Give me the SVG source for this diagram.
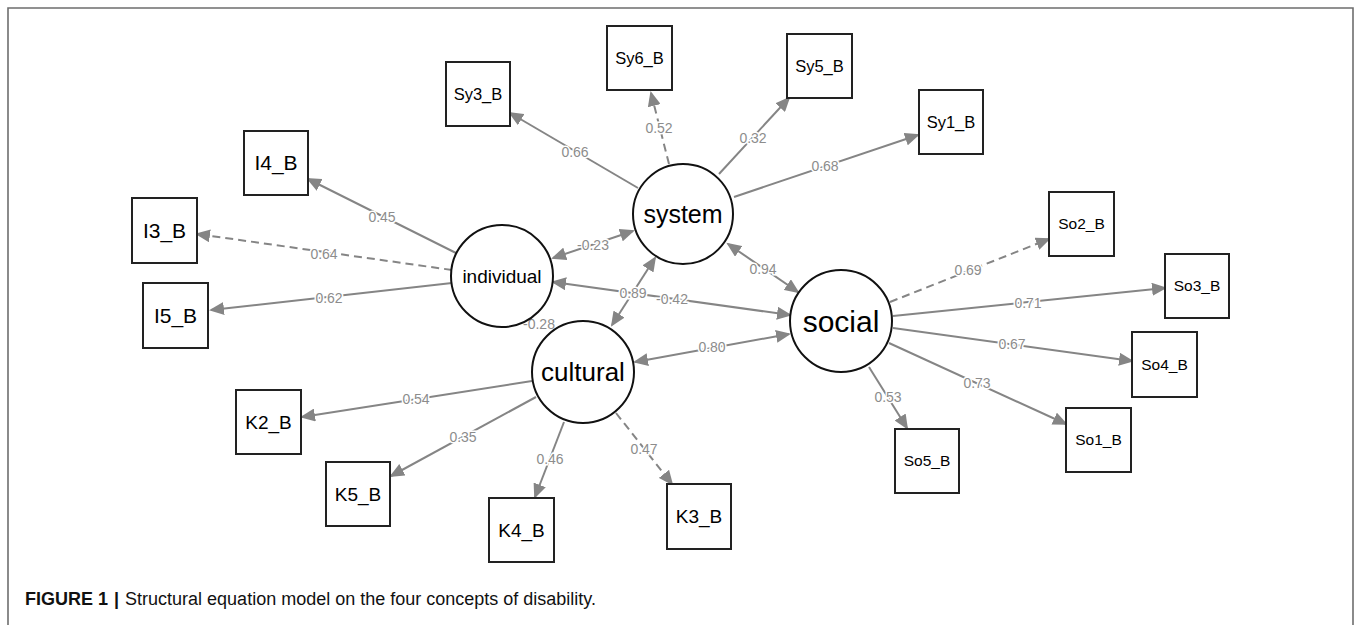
<svg xmlns="http://www.w3.org/2000/svg" width="1354" height="625" viewBox="0 0 1354 625">
<style>
.frame{fill:none;stroke:#6e6e6e;stroke-width:1.6}
.lat{fill:#fff;stroke:#111;stroke-width:2}
.box{fill:#fff;stroke:#222;stroke-width:2}
.t{font-family:"Liberation Sans",Arial,sans-serif;fill:#000;text-anchor:middle}
.e{fill:none;stroke:#858585;stroke-width:2}
.d{stroke-dasharray:8 5}
.one{marker-end:url(#ah)}
.two{marker-start:url(#ah);marker-end:url(#ah)}
.c{font-family:"Liberation Sans",Arial,sans-serif;font-size:14px;fill:#8c8c8c;text-anchor:middle;stroke:#fff;stroke-width:3;paint-order:stroke}
.cap{font-family:"Liberation Sans",Arial,sans-serif;font-size:18px;fill:#111}
</style>
<defs>
<marker id="ah" markerUnits="userSpaceOnUse" markerWidth="16" markerHeight="13" refX="13" refY="6.5" orient="auto-start-reverse" viewBox="0 0 16 13">
<path d="M0,0 L15,6.5 L0,13 Z" fill="#858585"/>
</marker>
</defs>
<rect width="1354" height="625" fill="#fff"/>
<path class="frame" d="M8,640 L8,8 L1353,8 L1353,640"/>
<g id="connectors">
<line class="e one" x1="638" y1="188" x2="510" y2="113"/>
<line class="e one d" x1="669" y1="164" x2="651" y2="93"/>
<line class="e one" x1="719" y1="174" x2="789" y2="98"/>
<line class="e one" x1="734" y1="197" x2="918" y2="135"/>
<line class="e one" x1="456" y1="253" x2="308" y2="179"/>
<line class="e one d" x1="452" y1="270" x2="197" y2="234"/>
<line class="e one" x1="452" y1="283" x2="211" y2="310"/>
<line class="e one d" x1="890" y1="302" x2="1049" y2="239"/>
<line class="e one" x1="893" y1="316" x2="1165" y2="288"/>
<line class="e one" x1="893" y1="328" x2="1132" y2="361"/>
<line class="e one" x1="889" y1="343" x2="1066" y2="424"/>
<line class="e one" x1="869" y1="367" x2="907" y2="428"/>
<line class="e one" x1="532" y1="381" x2="302" y2="417"/>
<line class="e one" x1="536" y1="397" x2="391" y2="476"/>
<line class="e one" x1="564" y1="422" x2="535" y2="497"/>
<line class="e one d" x1="616" y1="413" x2="672" y2="484"/>
<line class="e two" x1="553" y1="258" x2="633" y2="231"/>
<line class="e two" x1="728" y1="244" x2="798" y2="292"/>
<line class="e two" x1="553" y1="282" x2="790" y2="315"/>
<line class="e two" x1="612" y1="325" x2="655" y2="258"/>
<line class="e two" x1="635" y1="362" x2="789" y2="334"/>
<text class="c" x="575" y="157">0.66</text>
<text class="c" x="659" y="133">0.52</text>
<text class="c" x="753" y="143">0.32</text>
<text class="c" x="825" y="171">0.68</text>
<text class="c" x="382" y="222">0.45</text>
<text class="c" x="324" y="259">0.64</text>
<text class="c" x="329" y="303">0.62</text>
<text class="c" x="968" y="275">0.69</text>
<text class="c" x="1028" y="308">0.71</text>
<text class="c" x="1012" y="349">0.67</text>
<text class="c" x="977" y="388">0.73</text>
<text class="c" x="888" y="402">0.53</text>
<text class="c" x="416" y="404">0.54</text>
<text class="c" x="463" y="442">0.35</text>
<text class="c" x="550" y="464">0.46</text>
<text class="c" x="644" y="454">0.47</text>
<text class="c" x="593" y="250">-0.23</text>
<text class="c" x="763" y="274">0.94</text>
<text class="c" x="672" y="304">-0.42</text>
<text class="c" x="633" y="298">0.89</text>
<text class="c" x="712" y="352">0.80</text>
<text class="c" x="539" y="329">-0.28</text>
</g>
<g id="system"><circle class="lat" cx="683" cy="214" r="50"/><text class="t" x="683" y="223" font-size="25">system</text></g>
<g id="individual"><circle class="lat" cx="502" cy="276" r="51"/><text class="t" x="502" y="283" font-size="19">individual</text></g>
<g id="social"><circle class="lat" cx="841" cy="321" r="51"/><text class="t" x="841" y="332" font-size="30">social</text></g>
<g id="cultural"><circle class="lat" cx="583" cy="372" r="51"/><text class="t" x="583" y="381" font-size="26">cultural</text></g>
<g id="Sy3_B"><rect class="box" x="446" y="62" width="64" height="64"/><text class="t" x="478" y="100" font-size="16.5">Sy3_B</text></g>
<g id="Sy6_B"><rect class="box" x="607" y="26" width="65" height="64"/><text class="t" x="639.5" y="64" font-size="16.5">Sy6_B</text></g>
<g id="Sy5_B"><rect class="box" x="787" y="34" width="65" height="64"/><text class="t" x="819.5" y="72" font-size="16.5">Sy5_B</text></g>
<g id="Sy1_B"><rect class="box" x="919" y="90" width="64" height="64"/><text class="t" x="951" y="128" font-size="16.5">Sy1_B</text></g>
<g id="I4_B"><rect class="box" x="244" y="131" width="64" height="64"/><text class="t" x="276" y="170" font-size="21">I4_B</text></g>
<g id="I3_B"><rect class="box" x="132" y="198" width="65" height="65"/><text class="t" x="164.5" y="238" font-size="21">I3_B</text></g>
<g id="I5_B"><rect class="box" x="143" y="283" width="65" height="65"/><text class="t" x="175.5" y="323" font-size="21">I5_B</text></g>
<g id="So2_B"><rect class="box" x="1049" y="192" width="65" height="64"/><text class="t" x="1081.5" y="229" font-size="15.5">So2_B</text></g>
<g id="So3_B"><rect class="box" x="1165" y="254" width="64" height="64"/><text class="t" x="1197" y="291" font-size="15.5">So3_B</text></g>
<g id="So4_B"><rect class="box" x="1132" y="332" width="65" height="65"/><text class="t" x="1164.5" y="370" font-size="15.5">So4_B</text></g>
<g id="So1_B"><rect class="box" x="1066" y="408" width="65" height="64"/><text class="t" x="1098.5" y="445" font-size="15.5">So1_B</text></g>
<g id="So5_B"><rect class="box" x="895" y="429" width="64" height="64"/><text class="t" x="927" y="466" font-size="15.5">So5_B</text></g>
<g id="K2_B"><rect class="box" x="236" y="390" width="65" height="64"/><text class="t" x="268.5" y="429" font-size="19">K2_B</text></g>
<g id="K5_B"><rect class="box" x="326" y="462" width="64" height="64"/><text class="t" x="358" y="501" font-size="19">K5_B</text></g>
<g id="K4_B"><rect class="box" x="489" y="498" width="65" height="64"/><text class="t" x="521.5" y="537" font-size="19">K4_B</text></g>
<g id="K3_B"><rect class="box" x="667" y="484" width="64" height="65"/><text class="t" x="699" y="523" font-size="19">K3_B</text></g>
<text class="cap" x="25" y="605"><tspan font-weight="bold">FIGURE 1</tspan><tspan dx="6" font-weight="bold">|</tspan><tspan dx="6">Structural equation model on the four concepts of disability.</tspan></text>
</svg>
